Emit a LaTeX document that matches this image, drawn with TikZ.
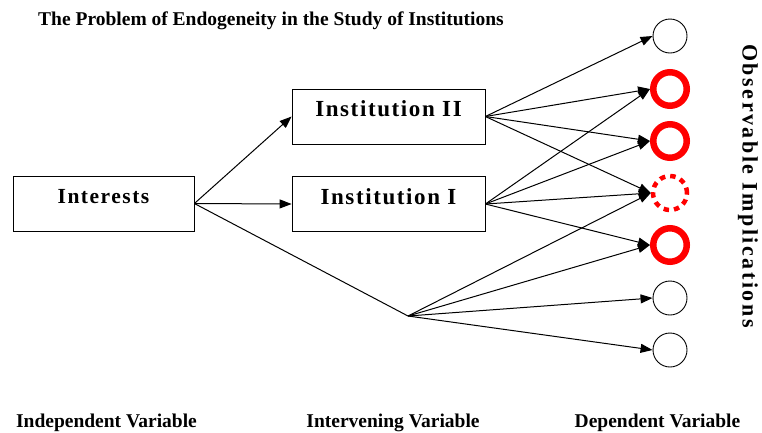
\documentclass[tikz,border=0pt]{standalone}
\usepackage{fontspec}
\setmainfont{Liberation Serif}
\newfontfamily\spacedfont[LetterSpace=7]{Liberation Serif}
\newfontfamily\widefont[LetterSpace=11.5]{Liberation Serif}
\usetikzlibrary{arrows.meta}

\begin{document}
\begin{tikzpicture}[x=1pt,y=-1pt,
    varbox/.style={draw, line width=0.8pt, minimum height=55pt, inner xsep=0pt, inner ysep=0pt,
      text height=27.5pt, text depth=27.5pt,
      font=\spacedfont\bfseries\fontsize{23}{26}\selectfont},
    link/.style={line width=1pt},
    arr/.style={link, -{Triangle[length=12pt,width=9pt]}},
    plain/.style={circle, draw, line width=0.9pt, minimum size=34pt, inner sep=0pt},
    strong/.style={circle, draw=red, line width=6.5pt, minimum size=33.5pt, inner sep=0pt},
    maybe/.style={circle, draw=red, line width=4.5pt, dash pattern=on 5.5pt off 5pt, minimum size=34pt, inner sep=0pt},
    caption/.style={anchor=base, inner sep=0pt, font=\bfseries\fontsize{19.5}{23}\selectfont}
  ]
  \useasboundingbox (0,0) rectangle (762,432);

  % title
  \node[anchor=base, inner sep=0pt, font=\bfseries\fontsize{19.5}{23}\selectfont] (title) at (271,25)
    {The Problem of Endogeneity in the Study of Institutions};

  % variables
  \node[varbox, minimum width=181pt, font=\spacedfont\bfseries\fontsize{21.5}{25}\selectfont]
    (interests) at (103.5,203.5) {Interests};
  \node[varbox, minimum width=193pt] (inst2) at (388.5,116.5) {Institution II};
  \node[varbox, minimum width=193pt] (inst1) at (388.5,204) {Institution I};
  \coordinate (other) at (408,316);

  % observable implications
  \node[plain]  (o1) at (670,36)  {};
  \node[strong] (o2) at (670,89)  {};
  \node[strong] (o3) at (670,141) {};
  \node[maybe]  (o4) at (670,193) {};
  \node[strong] (o5) at (670,245) {};
  \node[plain]  (o6) at (670,298) {};
  \node[plain]  (o7) at (670,350) {};

  \node[rotate=-90, inner sep=0pt, font=\widefont\bfseries\fontsize{22}{26}\selectfont] (obs) at (748,186)
    {Observable Implications};

  % causal links
  \draw[arr] (interests.east) -- (inst2.west);
  \draw[arr] (interests.east) -- (inst1.west);
  \draw[link] (interests.east) -- (other);

  \foreach \t in {o1,o2,o3,o4} \draw[arr] (inst2.east) -- (\t.west);
  \foreach \t in {o2,o3,o4,o5} \draw[arr] (inst1.east) -- (\t.west);
  \foreach \t in {o4,o5,o6,o7} \draw[arr] (other) -- (\t.west);

  % column captions
  \node[caption] (indep) at (106.5,427) {Independent Variable};
  \node[caption] (interv) at (393,427) {Intervening Variable};
  \node[caption] (dep) at (657.5,427) {Dependent Variable};
\end{tikzpicture}
\end{document}
